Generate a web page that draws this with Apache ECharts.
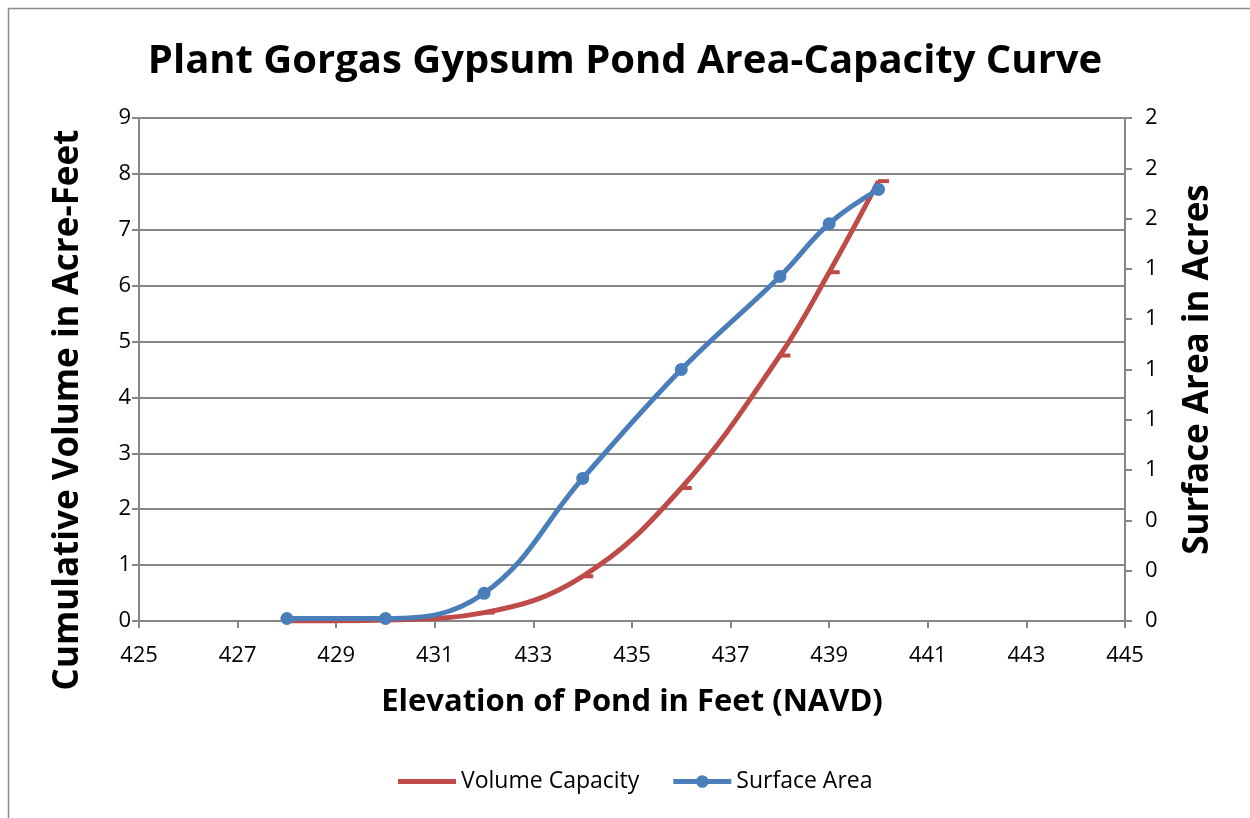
<!DOCTYPE html>
<html>
<head>
	<meta charset="utf-8" />
	<title>Plant Gorgas Gypsum Pond Area-Capacity Curve</title>
	<style type="text/css">
		body {
			margin: 0;
			background: #fff;
		}

		#main {
			width: 1250px;
			height: 818px;
		}
	</style>
	<script src="https://cdn.jsdelivr.net/npm/echarts@6/dist/echarts.min.js"></script>
</head>
<body>
	<div id="main"></div>
	<script type="text/javascript">

		// elevation of pond (ft, NAVD)
		const elevation = [428, 430, 432, 434, 436, 438, 439, 440];
		// cumulative volume (acre-feet), left axis
		const volume = [0, 0.02, 0.15, 0.8, 2.38, 4.75, 6.24, 7.87];
		// surface area (acres), right axis
		const area = [0.01, 0.01, 0.11, 0.567, 1.0, 1.37, 1.58, 1.716];

		const volumeData = elevation.map((x, i) => [x, volume[i]]);
		const areaData = elevation.map((x, i) => [x, area[i]]);

		const font = '"Open Sans", "Noto Sans", sans-serif';
		const grey = '#868686';
		const red = '#BE4B48';
		const blue = '#4A7EBB';

		// legend icons: plain thick line / thick line with a dot
		const iconLine = 'path://M0,4h60v5h-60z';
		const iconDot = 'path://M0,4h60v5h-60z M23.5,6.5a6.5,6.5 0 1,1 13,0a6.5,6.5 0 1,1 -13,0z';

		const options = {
			animation: false,
			textStyle: { fontFamily: font },
			title: {
				text: 'Plant Gorgas Gypsum Pond Area-Capacity Curve',
				left: 'center',
				top: 37,
				textStyle: {
					fontFamily: font,
					fontSize: 40,
					fontWeight: 'bold',
					color: '#000'
				}
			},
			graphic: [
				{
					type: 'rect',
					shape: { x: 8.5, y: 8.5, width: 1260, height: 830 },
					style: { fill: 'none', stroke: '#8c8c8c', lineWidth: 1.5 },
					silent: true
				},
				{
					// left axis title sits a little below the axis centre, as in the original
					type: 'text',
					x: 68,
					y: 410,
					rotation: Math.PI / 2,
					style: {
						text: 'Cumulative Volume in Acre-Feet',
						font: 'bold 35px ' + font,
						fill: '#000',
						align: 'center',
						verticalAlign: 'middle'
					},
					silent: true
				}
			],
			legend: {
				bottom: 20,
				left: 393,
				itemWidth: 58,
				itemHeight: 13,
				itemGap: 34,
				itemTextGap: 4,
				textStyle: { fontFamily: font, fontSize: 23, color: '#000' },
				data: [
					{ name: 'Volume Capacity', icon: iconLine },
					{ name: 'Surface Area', icon: iconDot }
				]
			},
			grid: {
				left: 139,
				right: 125,
				top: 118,
				bottom: 197,
				containLabel: false
			},
			xAxis: {
				type: 'value',
				min: 425,
				max: 445,
				interval: 2,
				name: 'Elevation of Pond in Feet (NAVD)',
				nameLocation: 'middle',
				nameGap: 66,
				nameTextStyle: { fontFamily: font, fontSize: 31, fontWeight: 'bold', color: '#000' },
				axisLine: { lineStyle: { color: grey, width: 2 } },
				axisTick: { show: true, length: 7, lineStyle: { color: grey, width: 2 } },
				axisLabel: { fontSize: 22, color: '#000', margin: 24 },
				splitLine: { show: false }
			},
			yAxis: [
				{
					type: 'value',
					min: 0,
					max: 9,
					interval: 1,
					position: 'left',
					axisLine: { show: true, lineStyle: { color: grey, width: 2 } },
					axisTick: { show: true, length: 7, lineStyle: { color: grey, width: 2 } },
					axisLabel: { fontSize: 22, color: '#000', margin: 8 },
					splitLine: { lineStyle: { color: grey, width: 2 } }
				},
				{
					type: 'value',
					min: 0,
					max: 2,
					interval: 0.2,
					position: 'right',
					name: 'Surface Area in Acres',
					nameLocation: 'middle',
					nameGap: 56,
					nameTextStyle: { fontFamily: font, fontSize: 35, fontWeight: 'bold', color: '#000' },
					axisLine: { show: true, lineStyle: { color: grey, width: 2 } },
					axisTick: { show: true, length: 7, lineStyle: { color: grey, width: 2 } },
					axisLabel: {
						fontSize: 22,
						color: '#000',
						margin: 20,
						formatter: (v) => Math.round(v).toString()
					},
					splitLine: { show: false }
				}
			],
			series: [
				{
					name: 'Volume Capacity',
					type: 'line',
					yAxisIndex: 0,
					data: volumeData,
					smooth: 0.4,
					lineStyle: { width: 5, color: red },
					symbol: 'rect',
					symbolSize: [11, 4],
					symbolOffset: [5, 0],
					itemStyle: { color: red },
					z: 2
				},
				{
					name: 'Surface Area',
					type: 'line',
					yAxisIndex: 1,
					data: areaData,
					smooth: 0.4,
					lineStyle: { width: 5, color: blue },
					symbol: 'circle',
					symbolSize: 13,
					itemStyle: { color: blue, borderWidth: 0 },
					z: 3
				}
			]
		};

		const myChart = echarts.init(document.getElementById('main'));
		myChart.setOption(options);

	</script>
</body>
</html>
